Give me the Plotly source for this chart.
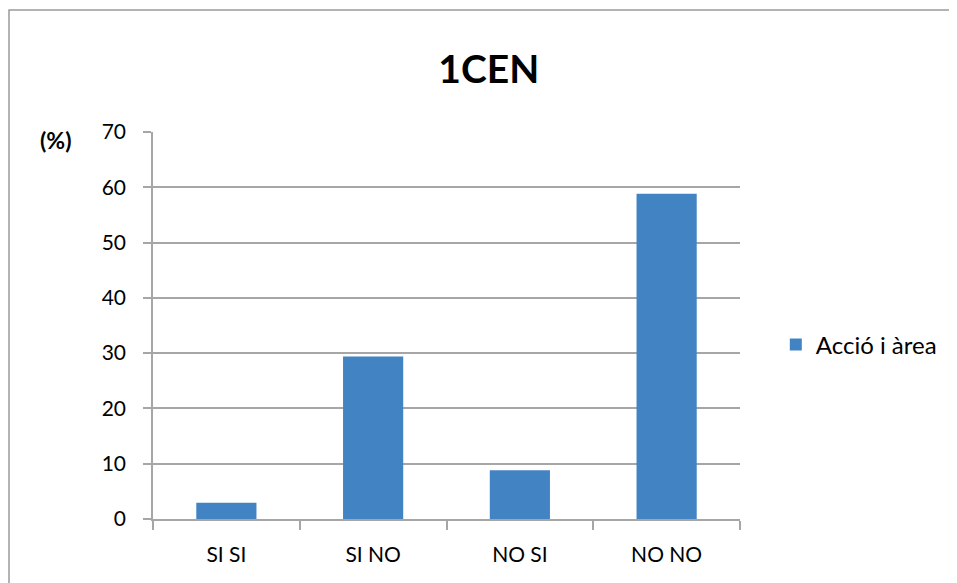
import plotly.graph_objects as go

categories = ["SI SI", "SI NO", "NO SI", "NO NO"]
values = [2.94, 29.41, 8.82, 58.82]
series_name = "Acció i àrea"
y_ticks = [0, 10, 20, 30, 40, 50, 60, 70]

FONT = "Lato, Open Sans, sans-serif"
GRID = "#a6a6a6"

fig = go.Figure()
fig.add_trace(go.Bar(
    x=categories, y=values, name=series_name,
    marker=dict(color="#4283c4", line=dict(width=0)),
    showlegend=True,
))

fig.update_layout(
    width=957, height=583,
    margin=dict(l=145, r=225, t=124, b=72),
    paper_bgcolor="white", plot_bgcolor="white",
    bargap=0.59,
    font=dict(family=FONT, size=21, color="black"),
    title=dict(text="<b>1CEN</b>", x=0.572, xanchor="center", xref="paper",
               y=0.895, yanchor="middle", yref="container",
               font=dict(size=39, family=FONT, color="black")),
    legend=dict(x=1.061, y=0.45, xanchor="left", yanchor="middle",
                font=dict(size=24, family=FONT), bgcolor="rgba(0,0,0,0)"),
    xaxis=dict(showline=True, linecolor=GRID, linewidth=1.5,
               ticks="outside", tickson="boundaries", ticklen=9,
               tickcolor=GRID, tickwidth=1.5, showgrid=False,
               tickfont=dict(size=21), ticklabelstandoff=16),
    yaxis=dict(range=[0, 70], tickvals=y_ticks, showline=True, linecolor=GRID,
               linewidth=1.5, ticks="outside", ticklen=8, tickcolor=GRID,
               tickwidth=1.5, showgrid=True, gridcolor=GRID, gridwidth=1.5,
               zeroline=False, tickfont=dict(size=21), ticklabelstandoff=13),
    annotations=[dict(text="<b>(%)</b>", xref="paper", yref="paper",
                      x=-0.166, y=0.979, xanchor="center", yanchor="middle",
                      showarrow=False, font=dict(size=23, family=FONT))],
    shapes=[dict(type="path", xref="paper", yref="paper",
                 path="M -0.2453,-1.0 L -0.2453,1.315 L 2.0,1.315",
                 line=dict(color="#9a9a9a", width=1.5), layer="below")],
)

fig.write_html("out.html")
